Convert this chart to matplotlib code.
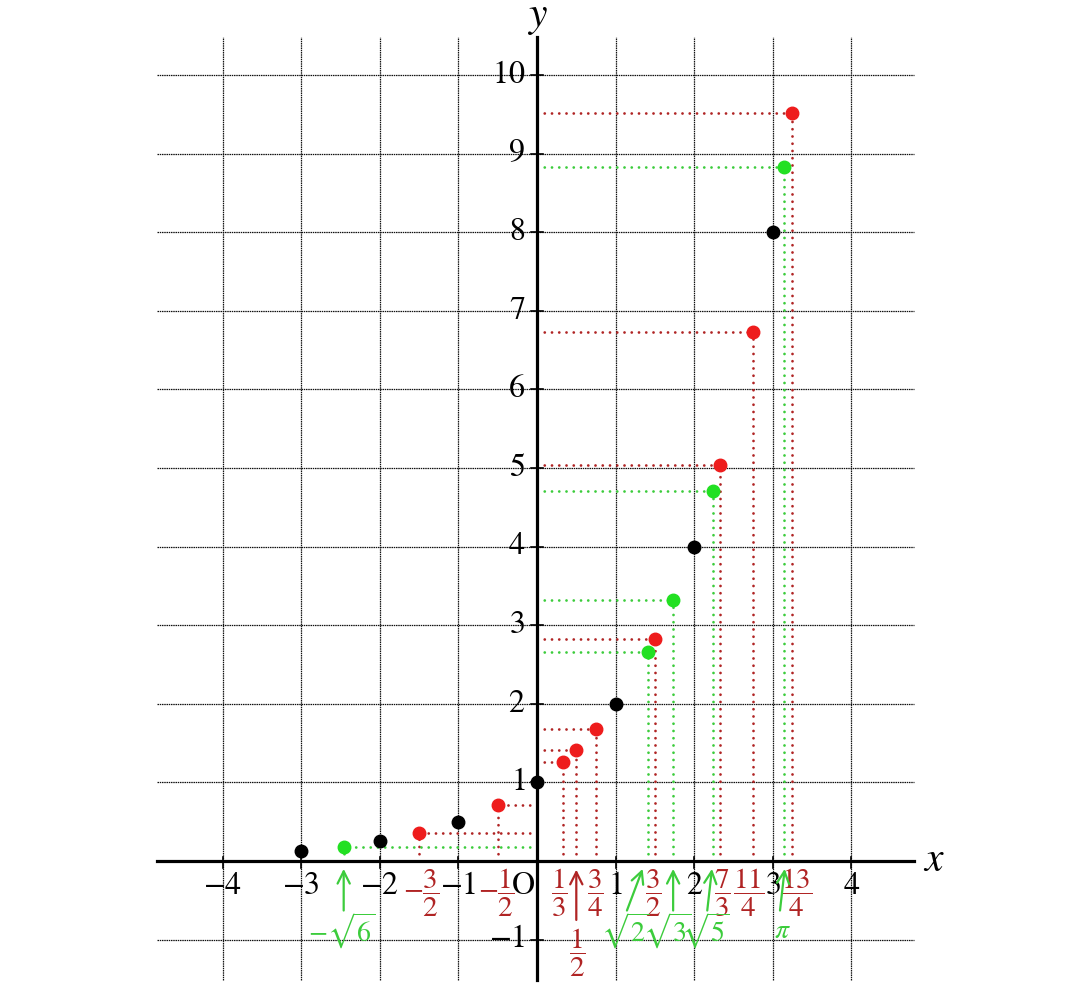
import numpy as np
import matplotlib
matplotlib.use("Agg")
import matplotlib.pyplot as plt

plt.rcParams['mathtext.fontset'] = 'stix'
plt.rcParams['font.family'] = ['STIXGeneral', 'DejaVu Serif']

# y = 2^x sample points
x_black = [-3, -2, -1, 0, 1, 2, 3]
x_red = [-3/2, -1/2, 1/3, 1/2, 3/4, 3/2, 7/3, 11/4, 13/4]
x_green = [-np.sqrt(6), np.sqrt(2), np.sqrt(3), np.sqrt(5), np.pi]

red_labels = [r'$-\dfrac{3}{2}$', r'$-\dfrac{1}{2}$', r'$\dfrac{1}{3}$', r'$\dfrac{1}{2}$',
              r'$\dfrac{3}{4}$', r'$\dfrac{3}{2}$', r'$\dfrac{7}{3}$', r'$\dfrac{11}{4}$',
              r'$\dfrac{13}{4}$']
green_labels = [r'$-\sqrt{6}$', r'$\sqrt{2}$', r'$\sqrt{3}$', r'$\sqrt{5}$', r'$\pi$']

xticks = [-4, -3, -2, -1, 1, 2, 3, 4]
yticks = [-1, 1, 2, 3, 4, 5, 6, 7, 8, 9, 10]

RED = '#ee1c1c'
RED_D = '#b02424'
GREEN = '#22e022'
GREEN_D = '#3ccc3c'

fig = plt.figure(figsize=(10.70, 9.89), dpi=100)
ax = fig.add_axes([0, 0, 1, 1])
ax.set_xlim(-537 / 78.6, (1070 - 537) / 78.6)
ax.set_ylim((861 - 989) / 78.6, 861 / 78.6)
ax.axis('off')

xl, xr = -4.83, 4.80
yb, yt = -1.51, 10.48

# grid
gs = dict(color='#111111', lw=0.9, ls=(0, (1.2, 0.6)), zorder=1)
for v in xticks:
    ax.plot([v, v], [yb, yt], **gs)
for v in yticks:
    ax.plot([xl, xr], [v, v], **gs)

# axes
ax.plot([xl, xr], [0, 0], color='black', lw=2.3, zorder=3)
ax.plot([0, 0], [yb, yt], color='black', lw=2.3, zorder=3)
for v in xticks:
    ax.plot([v, v], [-0.09, 0.05], color='black', lw=1.2, zorder=3)
for v in yticks:
    ax.plot([-0.07, 0.07], [v, v], color='black', lw=1.2, zorder=3)

ax.text(5.05, 0.0, r'$x$', fontsize=30, ha='center', va='center')
ax.text(0.01, 10.72, r'$y$', fontsize=30, ha='center', va='center')

for v in xticks:
    ax.text(v, -0.32, r'$%s$' % ('-' + str(-v) if v < 0 else str(v)),
            fontsize=23, ha='center', va='center')
ax.text(-0.17, -0.32, 'O', fontsize=23, ha='center', va='center')
for v in yticks:
    ax.text(-0.15, v, r'$%s$' % ('-' + str(-v) if v < 0 else str(v)),
            fontsize=23, ha='right', va='center')

dot = dict(lw=2.0, ls=(0, (0.01, 2.6)), dash_capstyle='round', zorder=2)


def guides(xs, color):
    for xv in xs:
        yv = 2 ** xv
        ax.plot([0, xv], [yv, yv], color=color, **dot)
        ax.plot([xv, xv], [0, yv], color=color, **dot)


guides(x_red, RED_D)
guides(x_green, GREEN_D)

ax.plot(x_black, np.power(2.0, x_black), 'o', color='black', ms=9, zorder=5)
ax.plot(x_red, np.power(2.0, x_red), 'o', color=RED, ms=9, zorder=5)
ax.plot(x_green, np.power(2.0, x_green), 'o', color=GREEN, ms=9, zorder=5)

# red fraction labels (1/2 sits lower with an arrow)
red_dx = [0.03, -0.02, -0.05, 0.01, -0.01, -0.02, 0.03, -0.06, 0.05]
for xv, lab, dx in zip(x_red, red_labels, red_dx):
    yl = -1.17 if xv == 0.5 else -0.41
    ax.text(xv + dx, yl, lab, fontsize=21, color=RED_D, ha='center', va='center')
ax.annotate('', xy=(0.5, -0.11), xytext=(0.5, -0.75),
            arrowprops=dict(arrowstyle='->', color=RED_D, lw=1.6,
                            mutation_scale=22, shrinkA=0, shrinkB=0))

# green labels with arrows: (tail dx, tip dx, label dx)
green_off = [(-0.01, -0.01, -0.03), (-0.27, -0.07, -0.29), (0.0, 0.0, -0.07),
             (-0.07, -0.01, -0.09), (-0.05, 0.01, -0.02)]
for xv, lab, (tdx, hdx, ldx) in zip(x_green, green_labels, green_off):
    ax.annotate('', xy=(xv + hdx, -0.10), xytext=(xv + tdx, -0.63),
                arrowprops=dict(arrowstyle='->', color=GREEN_D, lw=1.6,
                                mutation_scale=22, shrinkA=0, shrinkB=0))
    ax.text(xv + ldx, -0.89, lab, fontsize=20, color=GREEN_D, ha='center', va='center')

fig.savefig('out.png', dpi=100)
